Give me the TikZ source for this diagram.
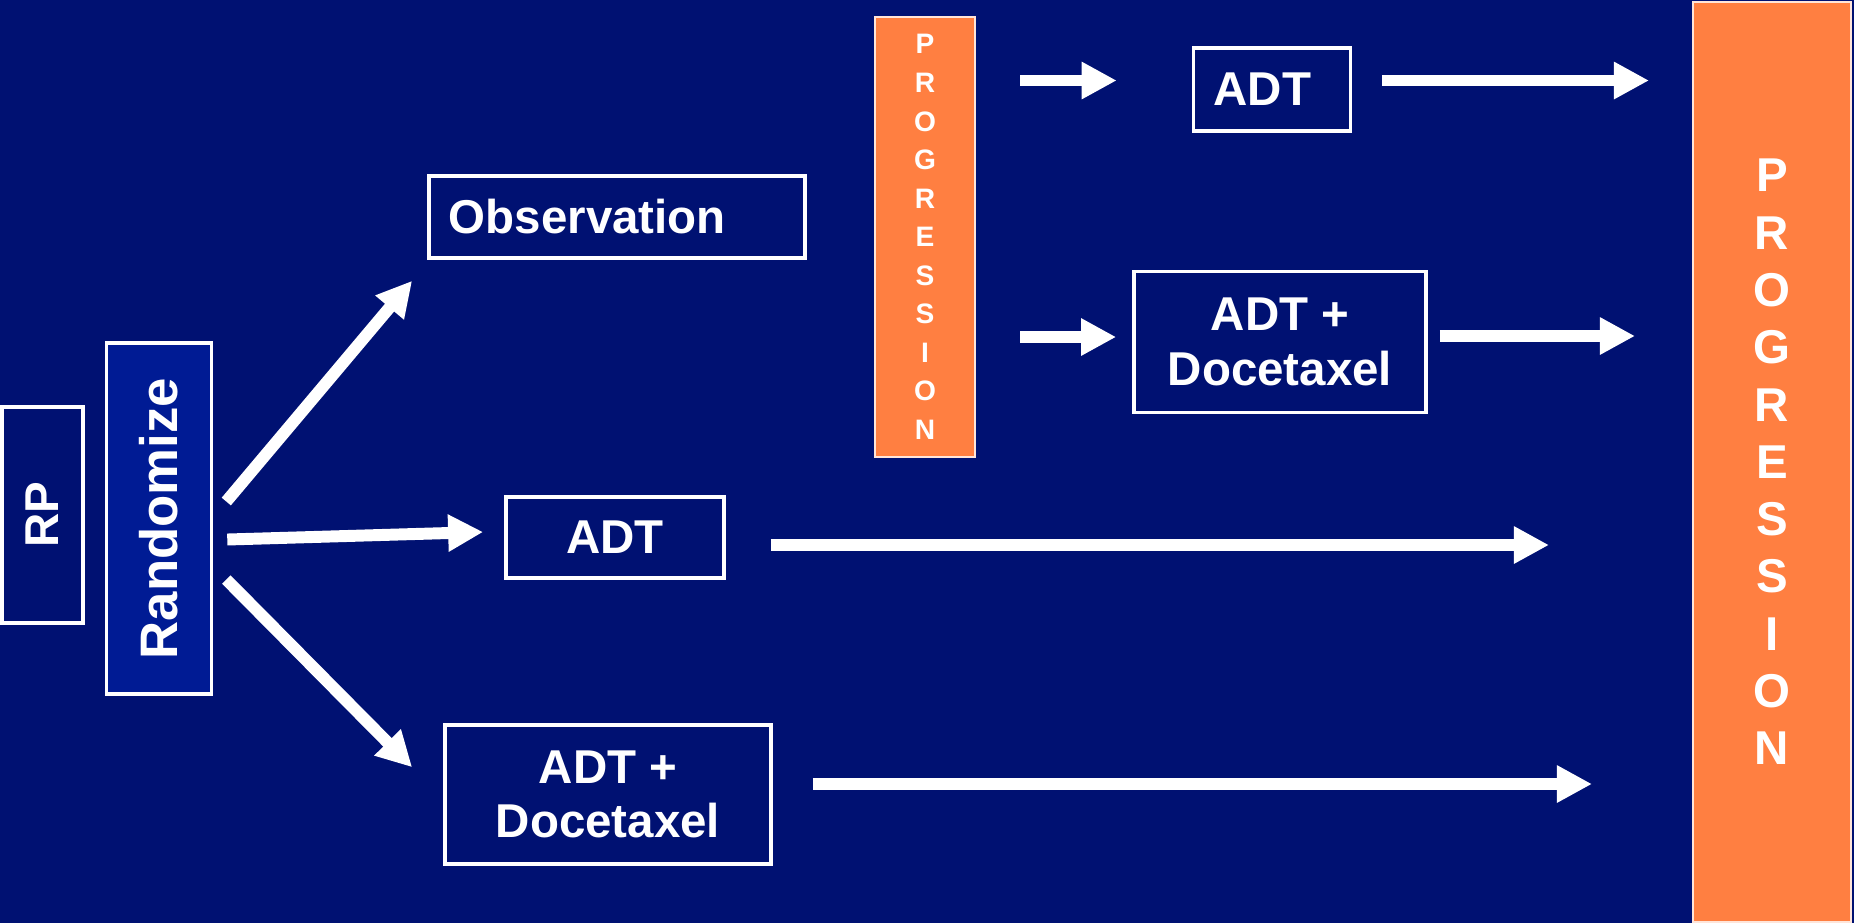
\documentclass[tikz,border=0pt]{standalone}
\usepackage{fontspec}
\setmainfont{Liberation Sans}
\usetikzlibrary{arrows.meta}
\definecolor{navy}{RGB}{0,17,114}
\definecolor{randblue}{RGB}{0,27,148}
\definecolor{progorange}{RGB}{255,127,65}

\begin{document}
\begin{tikzpicture}[x=0.01cm,y=-0.01cm,
	box/.style={draw=white,line width=1pt,text=white,font=\bfseries\fontsize{13.5}{15.5}\selectfont,align=center,inner sep=0pt},
	prog/.style={draw=white!80!progorange,line width=0.6pt,fill=progorange,text=white,align=center,inner sep=0pt},
	fat/.style={draw=white,line width=3.4pt,-{Triangle[length=0.35cm,width=0.35cm]}}]
	
	% background
	\fill[navy] (0,0) rectangle (1854,923);

	% boxes
	\node[box,minimum width=0.81cm,minimum height=2.16cm] (rp) at (42.5,515) {\rotatebox{90}{RP}};
	\node[box,fill=randblue,minimum width=1.05cm,minimum height=3.51cm,font=\bfseries\fontsize{15}{18}\selectfont] (rand) at (159,518.5) {\rotatebox{90}{Randomize}};
	\node[box,minimum height=0.82cm,text width=3.36cm,align=left,inner xsep=0.2cm] (obs) at (617,217) {Observation};
	\node[box,minimum width=2.18cm,minimum height=0.81cm] (adt) at (615,537.5) {ADT};
	\node[box,minimum width=3.26cm,minimum height=1.39cm] (adtdoc) at (608,794.5) {ADT +\\Docetaxel};
	\node[box,minimum height=0.83cm,text width=1.17cm,align=left,inner xsep=0.2cm] (adt2) at (1272,89.5) {ADT};
	\node[box,minimum width=2.92cm,minimum height=1.41cm] (adtdoc2) at (1280,342) {ADT +\\Docetaxel};

	% progression
	\node[prog,minimum width=1cm,minimum height=4.4cm,font=\bfseries\fontsize{8}{10.96}\selectfont] (sprog) at (925,237) {P\\R\\O\\G\\R\\E\\S\\S\\I\\O\\N};
	\node[prog,minimum width=1.58cm,minimum height=9.2cm,font=\bfseries\fontsize{13.5}{16.3}\selectfont] (bprog) at (1772,462) {P\\R\\O\\G\\R\\E\\S\\S\\I\\O\\N};

	% arrows
	\coordinate (e1) at (1549,545);
	\coordinate (e2) at (1592,784);
	\coordinate (e3) at (1649,80.5);
	\coordinate (e4) at (1635,336);
	\draw[fat] ([shift={(13,-17)}]rand.east) -- ([shift={(-15,21)}]obs.south west);
	\draw[fat] ([shift={(14,21)}]rand.east) -- ([shift={(-21,-5.5)}]adt.west);
	\draw[fat] ([shift={(13,61)}]rand.east) -- ([shift={(-31,44)}]adtdoc.north west);
	\draw[fat] ([shift={(45,7.5)}]adt.east) -- (e1);
	\draw[fat] ([shift={(40,-10.5)}]adtdoc.east) -- (e2);
	\draw[fat] ([shift={(44,-9)}]sprog.east |- adt2.west) -- ([shift={(-75,-9)}]adt2.west);
	\draw[fat] ([shift={(44,100)}]sprog.east) -- ([shift={(-16,-5)}]adtdoc2.west);
	\draw[fat] ([shift={(29.5,-9)}]adt2.east) -- (e3);
	\draw[fat] ([shift={(12,-6)}]adtdoc2.east) -- (e4);

\end{tikzpicture}
\end{document}
